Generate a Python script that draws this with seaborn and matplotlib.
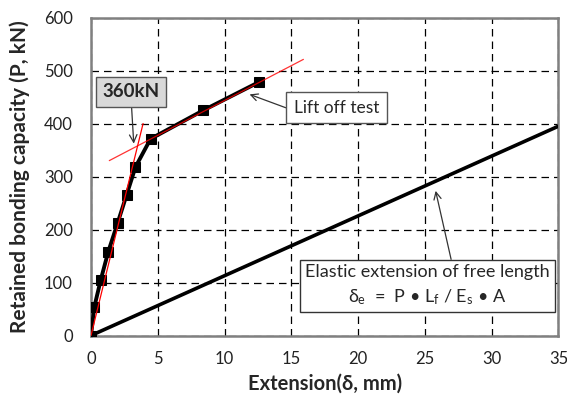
import matplotlib
matplotlib.use("Agg")
import matplotlib.pyplot as plt
import seaborn as sns
import pandas as pd

# lift off test data (extension mm, load kN)
ext_test = [0, 0.24, 0.73, 1.29, 1.99, 2.66, 3.33, 4.46, 8.42, 12.56]
load_test = [0, 53, 105, 158, 212, 265, 318, 371, 425, 478]

# elastic extension of free length
ext_elastic = [0, 35]
load_elastic = [0, 395]

# tangent lines (red)
tan1_x = [0, 3.9]
tan1_y = [0, 400]
tan2_x = [1.37, 15.9]
tan2_y = [330, 521]

x_ticks = [0, 5, 10, 15, 20, 25, 30, 35]
y_ticks = [0, 100, 200, 300, 400, 500, 600]

sns.set_style("white")
plt.rcParams["font.family"] = ["Lato", "DejaVu Sans"]
plt.rcParams["mathtext.fontset"] = "custom"
plt.rcParams["mathtext.rm"] = "Lato"
plt.rcParams["mathtext.it"] = "Lato"

fig = plt.figure(figsize=(5.67, 3.98), dpi=100)
ax = fig.add_axes([0.1605, 0.157, 0.8245, 0.799])

df_test = pd.DataFrame({"x": ext_test, "y": load_test})
df_el = pd.DataFrame({"x": ext_elastic, "y": load_elastic})

sns.lineplot(data=df_el, x="x", y="y", ax=ax, color="black", lw=2.6, zorder=3)
sns.lineplot(data=df_test, x="x", y="y", ax=ax, color="black", lw=2.8,
             marker="s", markersize=7, markeredgecolor="black", zorder=4)
sns.lineplot(x=tan1_x, y=tan1_y, ax=ax, color="red", lw=0.9, zorder=5)
sns.lineplot(x=tan2_x, y=tan2_y, ax=ax, color="red", lw=0.9, zorder=5, alpha=0.8)

ax.set_xlim(0, 35)
ax.set_ylim(0, 600)
ax.set_xticks(x_ticks)
ax.set_yticks(y_ticks)
ax.tick_params(axis="both", labelsize=12, colors="#222222", length=0)
ax.tick_params(axis="x", pad=11)
ax.tick_params(axis="y", pad=13)
ax.grid(True, color="black", linestyle=(0, (6, 4)), lw=0.9)
for s in ax.spines.values():
    s.set_color("#808080")
    s.set_linewidth(1.8)

ax.set_xlabel("Extension(δ, mm)", fontsize=14.5, fontweight="bold", labelpad=5)
ax.set_ylabel("Retained bonding capacity (P, kN)", fontsize=15, fontweight="bold", labelpad=10)

arrow = dict(arrowstyle="->", color="#333333", lw=0.9, shrinkA=0, shrinkB=0)

ax.annotate("360kN", xy=(3.2, 362), xytext=(2.97, 460), fontsize=13.5, fontweight="bold",
            ha="center", va="center", zorder=6,
            bbox=dict(boxstyle="square,pad=0.35", fc="#d9d9d9", ec="#555555", lw=1),
            arrowprops=arrow)
ax.annotate("Lift off test", xy=(11.87, 455), xytext=(18.4, 430), fontsize=12.5,
            ha="center", va="center", zorder=6,
            bbox=dict(boxstyle="square,pad=0.45", fc="white", ec="#555555", lw=1),
            arrowprops=dict(arrow, relpos=(0, 0.3)))
ax.annotate("Elastic extension of free length\n"
            r"$\delta_e$  =  P • L$_f$ / E$_s$ • A",
            xy=(25.8, 273), xytext=(25.2, 95), fontsize=13, linespacing=1.5,
            ha="center", va="center", multialignment="center", zorder=6,
            bbox=dict(boxstyle="square,pad=0.3", fc="white", ec="#333333", lw=1),
            arrowprops=dict(arrow, relpos=(0.6, 1.0)))

fig.savefig("out.png", dpi=100)
